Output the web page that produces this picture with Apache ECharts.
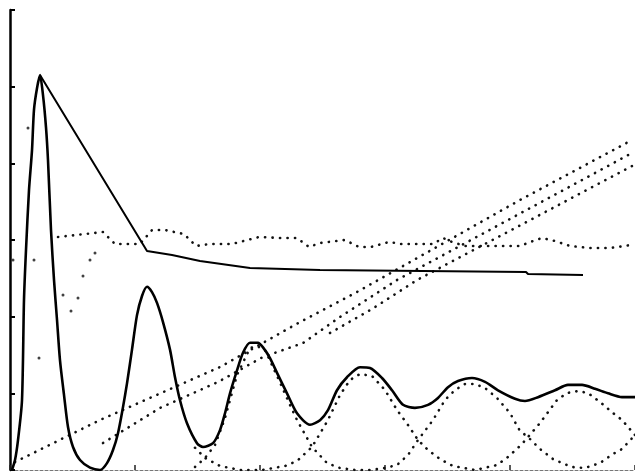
<!DOCTYPE html>
<html>
<head>
<meta charset="utf-8">
<script src="https://cdn.jsdelivr.net/npm/echarts@6/dist/echarts.min.js"></script>
<style>html,body{margin:0;padding:0;background:#fff}#c{width:635px;height:472px}</style>
</head>
<body>
<div id="c"></div>
<script>
// x axis: 0..5 (tick every 1), y axis: 0..6 (tick every 1)
const xTicks = [0, 1, 2, 3, 4, 5];
const yTicks = [0, 1, 2, 3, 4, 5, 6];

// solid damped oscillation
const intensity = [
  [0.016,0],[0.04,0.13],[0.064,0.39],[0.096,0.91],[0.112,2.22],[0.128,2.87],[0.152,3.65],[0.176,4.17],
  [0.192,4.70],[0.216,4.98],[0.24,5.15],[0.264,4.89],[0.288,4.47],[0.304,4.04],[0.328,3.13],[0.352,2.48],
  [0.376,1.96],[0.40,1.43],[0.432,0.98],[0.464,0.56],[0.504,0.30],[0.56,0.13],[0.64,0.03],[0.72,0],
  [0.776,0.09],[0.824,0.26],[0.864,0.48],[0.904,0.82],[0.936,1.13],[0.976,1.57],[1.016,2.02],[1.056,2.27],
  [1.096,2.39],[1.136,2.32],[1.176,2.18],[1.224,1.93],[1.28,1.57],[1.32,1.21],[1.36,0.91],[1.416,0.61],
  [1.496,0.35],[1.544,0.30],[1.624,0.35],[1.68,0.52],[1.72,0.74],[1.76,1.00],[1.816,1.30],[1.864,1.53],
  [1.92,1.66],[1.984,1.66],[2.024,1.60],[2.08,1.46],[2.144,1.24],[2.216,1.00],[2.296,0.74],[2.40,0.59],
  [2.48,0.65],[2.544,0.78],[2.616,1.04],[2.696,1.21],[2.80,1.34],[2.88,1.33],[2.976,1.20],[3.056,1.04],
  [3.144,0.85],[3.24,0.81],[3.344,0.85],[3.424,0.94],[3.504,1.08],[3.584,1.16],[3.696,1.20],[3.80,1.15],
  [3.904,1.04],[4.04,0.93],[4.12,0.90],[4.224,0.95],[4.36,1.04],[4.464,1.11],[4.576,1.11],[4.68,1.06],
  [4.784,1.00],[4.896,0.95],[5.0,0.95]
];

// solid envelope polyline
const envelope = [
  [0.24,5.152],[1.096,2.856],[1.296,2.804],[1.52,2.726],[1.92,2.635],[2.48,2.609],[4.128,2.583],[4.144,2.556],[4.584,2.543]
];

// dotted component P
const compP = [
  [1.48,0.29],[1.56,0.157],[1.68,0.052],[1.84,0],[2.016,0],
  [2.2,0.052],[2.296,0.117],[2.416,0.30],[2.544,0.652],[2.64,0.978],[2.72,1.174],[2.8,1.252],[2.896,1.226],
  [3.0,1.043],[3.096,0.783],[3.184,0.587],[3.264,0.391],[3.344,0.261],[3.44,0.143],[3.544,0.052],[3.72,0],
  [3.896,0.065],[3.984,0.17],[4.088,0.326],[4.144,0.43],[4.24,0.613],[4.376,0.913],[4.456,1.004],[4.544,1.03],
  [4.624,1.004],[4.72,0.887],[4.824,0.743],[4.896,0.652],[5.0,0.457]
];

// dotted component Q
const compQ = [
  [1.48,0.04],[1.56,0.157],[1.64,0.326],[1.72,0.678],[1.816,1.239],
  [1.92,1.591],[1.976,1.617],[2.04,1.565],[2.144,1.2],[2.24,0.848],[2.296,0.652],[2.416,0.30],[2.536,0.091],
  [2.64,0.026],[2.76,0],[2.88,0],[3.0,0.026],[3.096,0.065],[3.184,0.196],[3.264,0.391],[3.384,0.652],
  [3.48,0.913],[3.56,1.043],[3.64,1.122],[3.72,1.122],[3.8,1.07],[3.896,0.939],[4.0,0.743],[4.08,0.509],
  [4.144,0.43],[4.24,0.274],[4.344,0.143],[4.416,0.091],[4.496,0.039],[4.6,0.026],[4.72,0.091],[4.824,0.209],
  [4.896,0.274],[5.0,0.457]
];

// dotted wavy line near y = 3
const wave = [
  [0.384,3.039],[0.744,3.104],[0.84,2.948],[1.04,2.948],[1.136,3.13],[1.24,3.13],[1.392,3.078],[1.488,2.922],
  [1.6,2.948],[1.776,2.948],[1.992,3.039],[2.16,3.026],[2.296,3.026],[2.392,2.909],[2.48,2.961],[2.68,3.0],
  [2.792,2.909],[2.888,2.909],[3.032,2.974],[3.128,2.948],[3.384,2.948],[3.464,3.026],[3.536,2.974],[3.64,2.922],
  [3.92,2.922],[4.08,2.922],[4.184,2.987],[4.256,3.026],[4.36,2.987],[4.48,2.922],[4.64,2.896],[4.8,2.896],
  [4.92,2.922],[5.0,2.948]
];

// isolated dots at the left
const strayDots = [
  [0.144,4.461],[0.232,1.461],[0.488,2.074],[0.424,2.283],[0.544,2.243],[0.584,2.530],
  [0.64,2.739],[0.68,2.830],[0.024,2.739],[0.192,2.739]
];

// dotted rising lines
const line1 = [[0.04,0.104],[0.72,0.652],[1.68,1.343],[2.32,1.93],[2.776,2.322],[4.08,3.522],[4.976,4.304]];
const line2 = [[0.744,0.352],[1.2,0.809],[1.664,1.148],[2.024,1.474],[2.344,1.656],[2.64,1.996],[3.096,2.478],[4.976,4.135]];
const line3 = [[2.56,1.787],[2.896,2.1],[3.096,2.309],[3.256,2.478],[4.976,3.965]];

const chart = echarts.init(document.getElementById('c'), null, {renderer: 'canvas'});
const dotted = {color: '#111', width: 2.6, type: [0.2, 7.3], cap: 'round'};
function dotSeries(data) {
  return {type: 'line', data: data, symbol: 'none', lineStyle: dotted, z: 2, silent: true};
}
chart.setOption({
  animation: false,
  backgroundColor: '#ffffff',
  grid: {left: 10, right: 0, top: 10, bottom: 2, containLabel: false},
  xAxis: {
    type: 'value', min: xTicks[0], max: xTicks[xTicks.length - 1], interval: 1,
    axisLine: {show: true, lineStyle: {color: '#777', width: 1, type: [3, 2]}},
    axisTick: {show: true, inside: true, length: 5, lineStyle: {color: '#222', width: 1.5}},
    axisLabel: {show: false}, splitLine: {show: false}
  },
  yAxis: {
    type: 'value', min: yTicks[0], max: yTicks[yTicks.length - 1], interval: 1,
    axisLine: {show: true, lineStyle: {color: '#000', width: 2.5}},
    axisTick: {show: true, inside: true, length: 5, lineStyle: {color: '#000', width: 2}},
    axisLabel: {show: false}, splitLine: {show: false}
  },
  series: [
    dotSeries(line1), dotSeries(line2), dotSeries(line3), dotSeries(wave),
    dotSeries(compP), dotSeries(compQ),
    {type: 'scatter', data: strayDots, symbol: 'circle', symbolSize: 3, itemStyle: {color: '#111'}, z: 2, silent: true},
    {type: 'line', data: envelope, symbol: 'none', lineStyle: {color: '#000', width: 2}, z: 3, silent: true},
    {type: 'line', data: intensity, symbol: 'none', smooth: 0.25, lineStyle: {color: '#000', width: 2.6}, z: 4, silent: true}
  ]
});
</script>
</body>
</html>
